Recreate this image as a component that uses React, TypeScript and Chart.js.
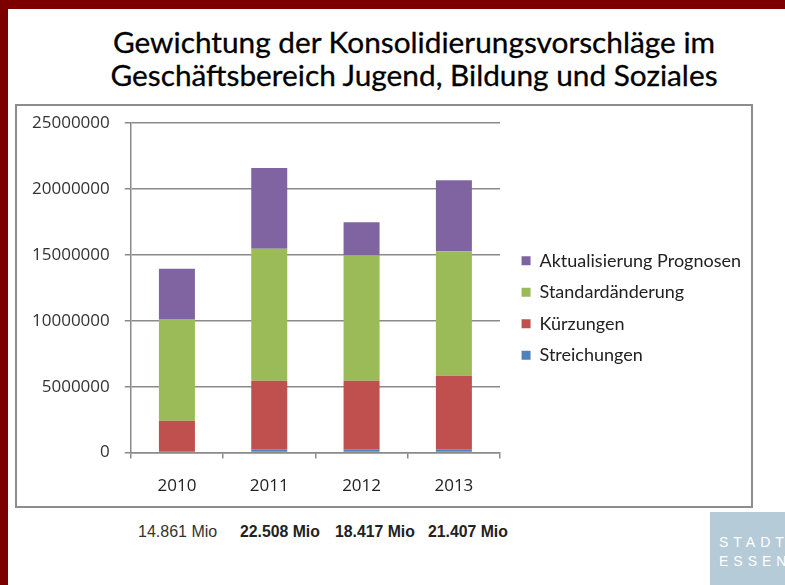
import React, { useEffect, useRef } from "react";
import { Chart, registerables } from "chart.js";

Chart.register(...registerables);

const categories = ["2010", "2011", "2012", "2013"];
const streichungen = [0, 260000, 250000, 250000];
const kuerzungen = [2410000, 5190000, 5200000, 5580000];
const standardaenderung = [7730000, 10010000, 9500000, 9440000];
const aktualisierung = [3800000, 6120000, 2530000, 5380000];
const totalLabels = ["14.861 Mio", "22.508 Mio", "18.417 Mio", "21.407 Mio"];
const yMin = 0;
const yMax = 25000000;
const yStep = 5000000;

const GRID = "#8a8a8a";

export default function App() {
  const ref = useRef<HTMLCanvasElement | null>(null);

  useEffect(() => {
    if (!ref.current) return;
    const chart = new Chart(ref.current, {
      type: "bar",
      data: {
        labels: categories,
        datasets: [
          { label: "Streichungen", data: streichungen, backgroundColor: "#4f81bd" },
          { label: "Kürzungen", data: kuerzungen, backgroundColor: "#c0504d" },
          { label: "Standardänderung", data: standardaenderung, backgroundColor: "#9bbb59" },
          { label: "Aktualisierung Prognosen", data: aktualisierung, backgroundColor: "#8064a2" },
        ],
      },
      options: {
        responsive: false,
        animation: false,
        datasets: { bar: { categoryPercentage: 1, barPercentage: 0.39 } },
        layout: { padding: { left: 0, right: 0, top: -3, bottom: -7 } },
        plugins: {
          tooltip: { enabled: false },
          legend: {
            position: "right",
            reverse: true,
            maxWidth: 280,
            labels: {
              boxWidth: 9,
              boxHeight: 9,
              padding: 13.5,
              color: "#222",
              font: { family: "Lato", size: 18 },
            },
          },
        },
        scales: {
          x: {
            stacked: true,
            grid: { display: true, drawOnChartArea: false, color: GRID, tickLength: 6, lineWidth: 1.5 },
            border: { display: true, color: GRID, width: 1.5 },
            ticks: { color: "#222", font: { family: "Open Sans", size: 17 }, padding: 17 },
          },
          y: {
            stacked: true,
            min: yMin,
            max: yMax,
            grid: { color: GRID, lineWidth: 1.5, tickLength: 6 },
            border: { display: true, color: GRID, width: 1.5 },
            ticks: {
              stepSize: yStep,
              color: "#333",
              font: { family: "Open Sans", size: 17 },
              padding: 15,
              callback: (v: any) => String(v),
            },
            afterFit: (s: any) => {
              s.paddingTop = 17;
            },
          },
          gap: {
            type: "linear",
            position: "right",
            display: true,
            grid: { display: false },
            border: { display: false },
            ticks: { display: false },
            afterFit: (s: any) => {
              s.width = 8;
              s.paddingTop = 0;
              s.paddingBottom = 0;
            },
          },
        },
      },
    });
    return () => chart.destroy();
  }, []);

  return (
    <div
      style={{
        position: "fixed",
        left: 0,
        top: 0,
        width: 785,
        height: 585,
        background: "#ffffff",
        overflow: "hidden",
      }}
    >
      <div style={{ position: "absolute", left: 0, top: 0, width: 785, height: 9, background: "#7d0000" }} />
      <div style={{ position: "absolute", left: 0, top: 0, width: 8, height: 585, background: "#7d0000" }} />
      <div
        style={{
          position: "absolute",
          left: 14,
          top: 25,
          width: 800,
          textAlign: "center",
          fontFamily: "Lato",
          fontWeight: 400,
          fontSize: 29.8,
          lineHeight: "33px",
          color: "#000",
          WebkitTextStroke: "0.3px #000",
        }}
      >
        Gewichtung der Konsolidierungsvorschläge im
        <br />
        Geschäftsbereich Jugend, Bildung und Soziales
      </div>
      <div
        style={{
          position: "absolute",
          left: 15,
          top: 104,
          width: 738,
          height: 404,
          boxSizing: "border-box",
          border: "2px solid #8d8d8d",
        }}
      >
        <canvas ref={ref} width={734} height={400} style={{ display: "block", width: 734, height: 400 }} />
      </div>
      {totalLabels.map((t, i) => (
        <div
          key={t}
          style={{
            position: "absolute",
            left: [138, 240, 335, 428][i],
            top: 523,
            fontFamily: "Liberation Sans",
            fontWeight: i === 0 ? 400 : 700,
            fontSize: i === 0 ? 16 : 15.8,
            color: i === 0 ? "#333" : "#222",
            whiteSpace: "nowrap",
          }}
        >
          {t}
        </div>
      ))}
      <div
        style={{
          position: "absolute",
          left: 710,
          top: 512,
          width: 80,
          height: 80,
          background: "#b6cbd8",
          color: "#ffffff",
          fontFamily: "Liberation Sans",
          fontSize: 14,
          letterSpacing: 5,
          lineHeight: "19px",
          paddingTop: 21,
          paddingLeft: 9,
          boxSizing: "border-box",
          whiteSpace: "nowrap",
        }}
      >
        STADT
        <br />
        ESSEN
      </div>
    </div>
  );
}
